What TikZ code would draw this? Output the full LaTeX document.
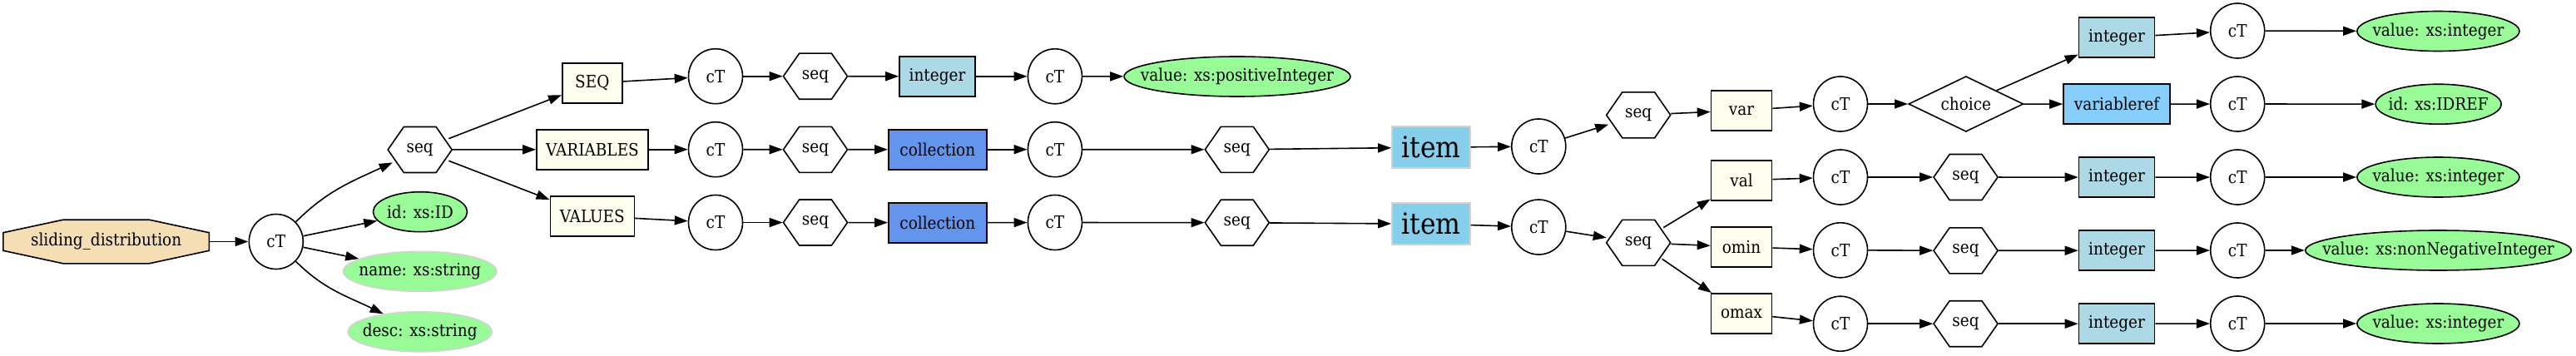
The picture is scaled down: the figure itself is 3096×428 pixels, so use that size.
\documentclass[tikz,border=0pt]{standalone}
\usepackage{fontspec}
\setmainfont{DejaVu Serif Condensed}
\usetikzlibrary{arrows.meta,shapes.geometric,backgrounds}
\definecolor{cWheat}{HTML}{F5DEB3}
\definecolor{cGreen}{HTML}{98FB98}
\definecolor{cIvory}{HTML}{FFFFF0}
\definecolor{cLBlue}{HTML}{ADD8E6}
\definecolor{cCorn}{HTML}{6495ED}
\definecolor{cSky}{HTML}{87CEEB}
\definecolor{cLSky}{HTML}{87CEFA}
\definecolor{cGray}{HTML}{D3D3D3}
\newcommand{\zb}[1]{\makebox[0pt]{#1}}
\begin{document}
\begin{tikzpicture}[x=1pt,y=1pt,font=\fontsize{20.5}{24}\selectfont,
  base/.style={inner sep=0pt,line width=1.6pt},
  ct/.style={base,ellipse,draw,minimum width=65pt,minimum height=66pt},
  hexa/.style={base,ellipse,minimum width=77pt,minimum height=55pt},
  boxy/.style={base,rectangle,draw,fill=cIvory,minimum height=48pt},
  intbox/.style={base,rectangle,draw,fill=cLBlue,minimum height=48pt,minimum width=91pt},
  colbox/.style={base,rectangle,draw,fill=cCorn,minimum height=48pt,minimum width=118pt},
  itembox/.style={base,rectangle,draw=cGray,fill=cSky,minimum width=94pt,minimum height=50pt,font=\fontsize{35}{40}\selectfont},
  attr/.style={base,ellipse,draw,fill=cGreen,minimum height=48pt},
  attro/.style={attr,draw=cGray},
  edge/.style={line width=1.6pt,-{Triangle[length=16pt,width=11pt]}},
  hexline/.style={line width=1.6pt,line join=miter}
]
\useasboundingbox (0,0) rectangle (3096,-428);
% root
\node[base,rectangle,minimum width=246pt,minimum height=51pt] (sd) at (127.6,-290.5) {sliding\_distribution};
\begin{scope}[on background layer]
\draw[fill=cWheat,line width=1.6pt] ([xshift=72pt]sd.north west) -- ([xshift=-72pt]sd.north east) -- ([yshift=-15.5pt]sd.north east) -- ([yshift=15.5pt]sd.south east) -- ([xshift=-72pt]sd.south east) -- ([xshift=72pt]sd.south west) -- ([yshift=15.5pt]sd.south west) -- ([yshift=-15.5pt]sd.north west) -- cycle;
\end{scope}
\node[ct] (c0) at (331.8,-290.5) {cT};
\node[hexa] (s0) at (504.7,-180) {seq};
\node[attr,minimum width=113pt] (aid) at (505,-254.7) {\zb{id: xs:ID}};
\node[attro,minimum width=184.5pt] (aname) at (504.7,-326.3) {\zb{name: xs:string}};
\node[attro,minimum width=173pt] (adesc) at (504.7,-398.8) {\zb{desc: xs:string}};
% second level
\node[boxy,minimum width=72pt] (bSEQ) at (711.8,-100) {SEQ};
\node[boxy,minimum width=134pt] (bVAR) at (712,-179.7) {VARIABLES};
\node[boxy,minimum width=101pt] (bVAL) at (711.8,-259.7) {VALUES};
\node[ct] (cA) at (860,-91.7) {cT};
\node[ct] (cB) at (860,-179.7) {cT};
\node[ct] (cC) at (860,-267.5) {cT};
\node[hexa] (sA) at (980,-91.7) {seq};
\node[hexa] (sB) at (980,-179.8) {seq};
\node[hexa] (sC) at (980,-267.5) {seq};
\node[intbox] (iA) at (1126.5,-91.8) {integer};
\node[colbox] (kB) at (1126.8,-179.7) {collection};
\node[colbox] (kC) at (1126.8,-267.7) {collection};
\node[ct] (cA2) at (1267.9,-91.8) {cT};
\node[ct] (cB2) at (1267.9,-179.7) {cT};
\node[ct] (cC2) at (1267.9,-267.5) {cT};
\node[attr,minimum width=272pt] (vpos) at (1487,-92) {\zb{value: xs:positiveInteger}};
\node[hexa] (sB2) at (1486.8,-179.8) {seq};
\node[hexa] (sC2) at (1486.8,-267.7) {seq};
\node[itembox] (itB) at (1719.9,-177.2) {item};
\node[itembox] (itC) at (1719.9,-269.2) {item};
\node[ct] (cB3) at (1849.3,-176) {cT};
\node[ct] (cC3) at (1849.3,-273) {cT};
\node[hexa] (sB3) at (1969.2,-138.3) {seq};
\node[hexa] (sC3) at (1969.2,-291.8) {seq};
\node[boxy,minimum width=73pt] (bvar) at (2093,-132.8) {var};
\node[boxy,minimum width=73pt] (bval) at (2093,-216.8) {val};
\node[boxy,minimum width=73pt] (bomin) at (2093,-296.8) {omin};
\node[boxy,minimum width=73pt] (bomax) at (2093,-376.8) {omax};
\node[ct] (cvar) at (2212,-125) {cT};
\node[ct] (cval) at (2212,-213) {cT};
\node[ct] (comin) at (2212,-300.8) {cT};
\node[ct] (comax) at (2212,-389.2) {cT};
\node[base,diamond,draw,aspect=2,minimum width=138pt,minimum height=66.6pt] (choice) at (2362.8,-125) {\zb{choice}};
\node[hexa] (sval) at (2362.5,-213) {seq};
\node[hexa] (somin) at (2362.5,-301.3) {seq};
\node[hexa] (somax) at (2362.5,-389.2) {seq};
\node[intbox] (iT) at (2544,-45.2) {integer};
\node[base,rectangle,draw,fill=cLSky,minimum height=48pt,minimum width=128pt] (vref) at (2544,-125.2) {variableref};
\node[intbox] (ival) at (2544,-213.2) {integer};
\node[intbox] (iomin) at (2544,-301.2) {integer};
\node[intbox] (iomax) at (2544,-389.2) {integer};
\node[ct] (cT5) at (2689.2,-37) {cT};
\node[ct] (cvref) at (2689.2,-125) {cT};
\node[ct] (cival) at (2689.2,-213) {cT};
\node[ct] (ciomin) at (2689.2,-301) {cT};
\node[ct] (ciomax) at (2689.2,-389) {cT};
\node[attr,minimum width=195pt] (vT) at (2930.4,-37.5) {\zb{value: xs:integer}};
\node[attr,minimum width=151pt] (idref) at (2930.6,-125.2) {\zb{id: xs:IDREF}};
\node[attr,minimum width=195pt] (vval) at (2930.4,-213) {\zb{value: xs:integer}};
\node[attr,minimum width=319.6pt] (vnn) at (2930.5,-301) {\zb{value: xs:nonNegativeInteger}};
\node[attr,minimum width=195pt] (vomax) at (2930.4,-389) {\zb{value: xs:integer}};
% hexagons
\foreach \n in {s0,sA,sB,sC,sB2,sC2,sB3,sC3,sval,somin,somax}
  \draw[hexline] ([xshift=-38.5pt]\n.center) -- ++(19.1,27.5) -- ++(38.8,0) -- ++(19.1,-27.5) -- ++(-19.1,-27.5) -- ++(-38.8,0) -- cycle;
% edges
\draw[edge] (c0) to[out=45,in=205] (s0);
\draw[edge] (c0) to[out=-45,in=154] (adesc);
\foreach \a/\b in {sd/c0,c0/aid,c0/aname,s0/bSEQ,s0/bVAR,s0/bVAL,
  bSEQ/cA,cA/sA,sA/iA,iA/cA2,cA2/vpos,
  bVAR/cB,cB/sB,sB/kB,kB/cB2,cB2/sB2,sB2/itB,itB/cB3,cB3/sB3,sB3/bvar,bvar/cvar,cvar/choice,
  choice/iT,iT/cT5,cT5/vT,choice/vref,vref/cvref,cvref/idref,
  bVAL/cC,cC/sC,sC/kC,kC/cC2,cC2/sC2,sC2/itC,itC/cC3,cC3/sC3,sC3/bval,sC3/bomin,sC3/bomax,
  bval/cval,cval/sval,sval/ival,ival/cival,cival/vval,
  bomin/comin,comin/somin,somin/iomin,iomin/ciomin,ciomin/vnn,
  bomax/comax,comax/somax,somax/iomax,iomax/ciomax,ciomax/vomax}
  \draw[edge] (\a) -- (\b);
\end{tikzpicture}
\end{document}
